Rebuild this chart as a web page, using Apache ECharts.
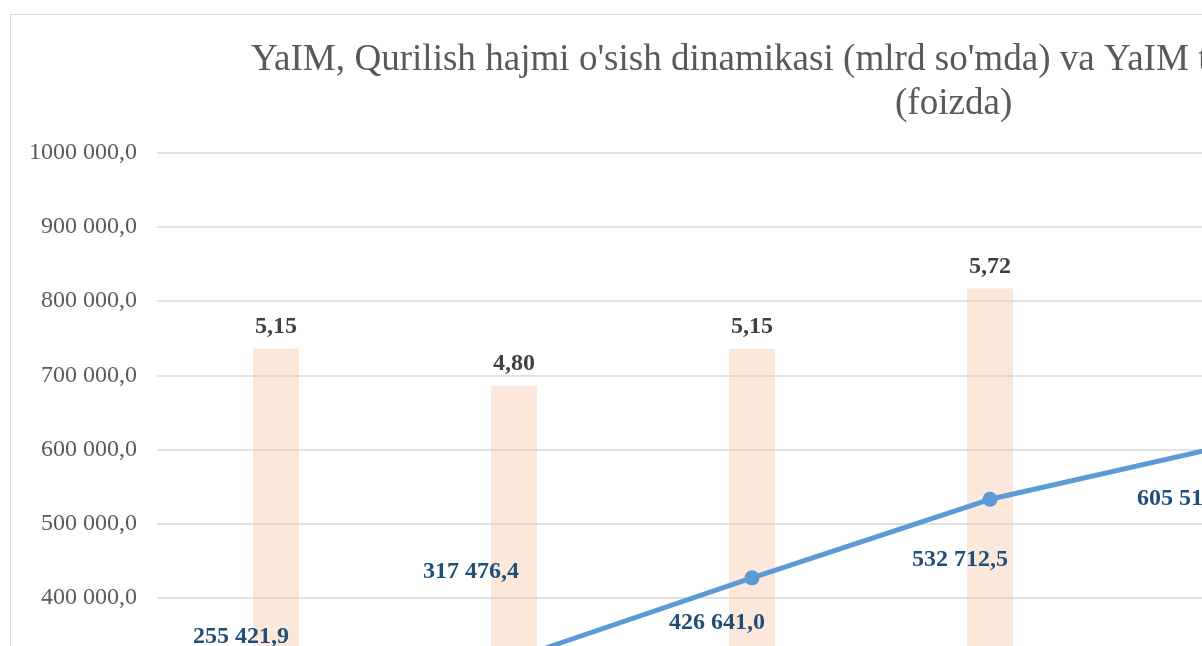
<!DOCTYPE html>
<html>
<head>
<meta charset="utf-8">
<script src="https://cdn.jsdelivr.net/npm/echarts@6/dist/echarts.min.js"></script>
<style>
  html, body { margin: 0; padding: 0; background: #fff; overflow: hidden; }
  #main {
    position: absolute; left: 10px; top: 14px;
    width: 1900px; height: 1000px;
    border: 1px solid #d9d9d9;
  }
</style>
</head>
<body>
<div id="main"></div>
<script>
// yillar (x o'qi pastda, rasmda ko'rinmaydi)
var years = ['2016', '2017', '2018', '2019', '2020', '2021', '2022'];
// YaIM, mlrd so'm
var gdp = [255421.9, 317476.4, 426641.0, 532712.5, 605515.1, null, null];
// Qurilishning YaIM dagi ulushi, %
var share = [5.15, 4.80, 5.15, 5.72, null, null, null];
// chap o'q belgilari
var leftTicks = [0, 100000, 200000, 300000, 400000, 500000, 600000, 700000, 800000, 900000, 1000000];

// label siljishlari (Excel dagi qo'lda surilgan yorliqlar)
var gdpLabelShift = [[-35, -68], [-43, -87], [-35, 45], [-30, 61], [-43, 53]];

var chart = echarts.init(document.getElementById('main'));

function fmtNum(v, dec) {
  var s = v.toFixed(dec).split('.');
  var ip = parseInt(s[0], 10);
  var txt = ip >= 1000 ? Math.floor(ip / 1000) + ' ' + String(ip % 1000).padStart(3, '0') : String(ip);
  return txt + ',' + s[1];
}

var titleFont = { fontFamily: 'Liberation Serif', fontSize: 37.1, fontWeight: 'normal', color: '#595959' };

var option = {
  animation: false,
  title: [{
    text: "YaIM, Qurilish hajmi o'sish dinamikasi (mlrd so'mda) va YaIM tarkibidagi ulushi",
    left: 235,
    top: 22,
    textStyle: titleFont
  }, {
    text: '(foizda)',
    left: 879,
    top: 66,
    textStyle: titleFont
  }],
  grid: { left: 146, top: 138, width: 238 * years.length, height: 741 },
  xAxis: {
    type: 'category',
    data: years,
    axisTick: { show: false },
    axisLine: { lineStyle: { color: '#d9d9d9' } },
    axisLabel: { fontFamily: 'Liberation Serif', fontSize: 24, color: '#595959' }
  },
  yAxis: [{
    type: 'value',
    min: leftTicks[0],
    max: leftTicks[leftTicks.length - 1],
    interval: leftTicks[1] - leftTicks[0],
    axisLine: { show: false },
    axisTick: { show: false },
    splitLine: { lineStyle: { color: '#d9d9d9', width: 1.5 } },
    axisLabel: {
      margin: 20,
      padding: [4, 0, 0, 0],
      fontFamily: 'Liberation Serif', fontSize: 24, color: '#595959',
      formatter: function (v) { return fmtNum(v, 1); }
    }
  }, {
    type: 'value',
    min: 0,
    max: 7,
    interval: 1,
    splitLine: { show: false },
    axisLine: { show: false },
    axisTick: { show: false },
    axisLabel: {
      fontFamily: 'Liberation Serif', fontSize: 24, color: '#595959',
      formatter: function (v) { return v.toFixed(2).replace('.', ','); }
    }
  }],
  series: [{
    name: 'Qurilishning YaIM dagi ulushi',
    type: 'bar',
    yAxisIndex: 1,
    data: share,
    barWidth: 46,
    itemStyle: { color: 'rgba(246, 200, 170, 0.42)' },
    z: 1,
    label: {
      show: true,
      position: 'top',
      distance: 10,
      fontFamily: 'Liberation Serif', fontSize: 24, fontWeight: 'bold', color: '#404040',
      formatter: function (p) { return p.value.toFixed(2).replace('.', ','); }
    }
  }, {
    name: 'YaIM',
    type: 'line',
    data: gdp.map(function (v, i) {
      return {
        value: v,
        label: { offset: gdpLabelShift[i] || [0, 0] }
      };
    }),
    symbol: 'circle',
    symbolSize: 15,
    lineStyle: { color: '#5B9BD5', width: 5 },
    itemStyle: { color: '#5B9BD5' },
    z: 3,
    label: {
      show: true,
      position: 'inside',
      fontFamily: 'Liberation Serif', fontSize: 24, fontWeight: 'bold', color: '#1F4E79',
      formatter: function (p) { return p.value == null ? '' : fmtNum(p.value, 1); }
    }
  }]
};

chart.setOption(option);
</script>
</body>
</html>
